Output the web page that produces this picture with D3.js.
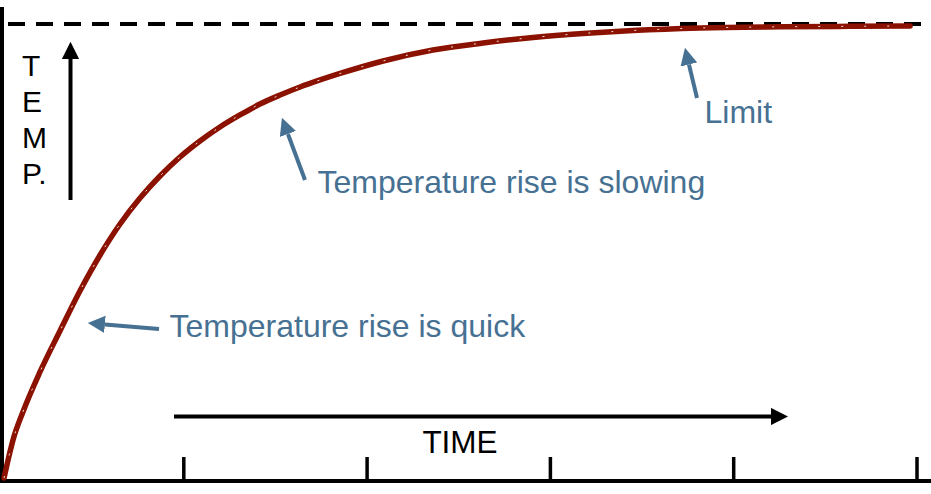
<!DOCTYPE html>
<html>
<head>
<meta charset="utf-8">
<script src="https://cdn.jsdelivr.net/npm/d3@7"></script>
<style>
  html, body { margin: 0; padding: 0; background: #fff; }
  svg { display: block; font-family: "Liberation Sans", Arial, sans-serif; }
</style>
</head>
<body>
<svg id="chart" width="931" height="494"></svg>
<script>
// ---- data ----
const times = [0.022, 0.044, 0.071, 0.125, 0.218, 0.327, 0.436, 0.546, 0.655, 0.764, 0.873, 0.982, 1.091, 1.2, 1.309, 1.418, 1.528, 1.637, 1.746, 1.855, 2.09, 2.362, 2.635, 2.908, 3.18, 3.453, 3.819, 4.255, 4.637, 4.965];
const temps = [0, 3.96, 8.37, 14.54, 23.35, 32.38, 41.19, 49.12, 55.95, 61.67, 66.52, 70.70, 74.23, 77.31, 79.96, 82.38, 84.36, 86.12, 87.67, 89.10, 91.85, 94.27, 95.81, 97.03, 97.91, 98.57, 99.12, 99.38, 99.49, 99.56];
const limitValue = 100;
const tickValues = [1, 2, 3, 4, 5];
const yLabelLetters = ["T", "E", "M", "P."];
const xLabel = "TIME";
const annotationTexts = ["Temperature rise is quick", "Temperature rise is slowing", "Limit"];

// ---- layout ----
const W = 931, H = 494;
const svg = d3.select("#chart");
const x = d3.scaleLinear().domain([0, 5]).range([0, 916.5]);
const y = d3.scaleLinear().domain([0, 100]).range([478, 24]);
const baseY = 481;
const blue = "#477193";
const red = "#8b1100";

// arrowhead markers
const defs = svg.append("defs");
function marker(id, color) {
  defs.append("marker")
    .attr("id", id).attr("viewBox", "0 0 10 10")
    .attr("refX", 0).attr("refY", 5)
    .attr("markerWidth", 4.3).attr("markerHeight", 4.3)
    .attr("markerUnits", "strokeWidth")
    .attr("orient", "auto")
    .append("path").attr("d", "M0,0 L10,5 L0,10 Z").attr("fill", color);
}
marker("headBlack", "#000");
marker("headBlue", blue);

// limit dashed line
svg.append("line")
  .attr("x1", 8).attr("x2", W)
  .attr("y1", y(limitValue)).attr("y2", y(limitValue))
  .attr("stroke", "#000").attr("stroke-width", 4)
  .attr("stroke-dasharray", "17 11");

// left axis line
svg.append("line")
  .attr("x1", 2).attr("x2", 2).attr("y1", 7).attr("y2", baseY + 2)
  .attr("stroke", "#000").attr("stroke-width", 4);

// bottom axis (ticks pointing up)
const axis = d3.axisBottom(x).tickValues(tickValues).tickSize(-24).tickFormat("");
const gAxis = svg.append("g").attr("transform", `translate(0,${baseY})`).call(axis);
gAxis.select(".domain").remove();
gAxis.selectAll(".tick line").attr("stroke", "#000").attr("stroke-width", 3.5);
svg.append("line")
  .attr("x1", 0).attr("x2", W).attr("y1", baseY).attr("y2", baseY)
  .attr("stroke", "#000").attr("stroke-width", 4);

// curve
const pts = times.map((t, i) => [t, temps[i]]);
const line = d3.line().x(d => x(d[0])).y(d => y(d[1])).curve(d3.curveMonotoneX);
svg.append("path").datum(pts)
  .attr("d", line).attr("fill", "none")
  .attr("stroke", red).attr("stroke-width", 5.5)
  .attr("stroke-linecap", "round").attr("stroke-linejoin", "round");
svg.append("path").datum(pts)
  .attr("d", line).attr("fill", "none")
  .attr("stroke", "#fff").attr("stroke-width", 1)
  .attr("stroke-dasharray", "2 21").attr("opacity", 0.85);

// TEMP label + up arrow
svg.append("g").selectAll("text").data(yLabelLetters).join("text")
  .attr("x", 22).attr("y", (d, i) => 75.5 + i * 36)
  .attr("font-size", 30).attr("fill", "#000").text(d => d);
svg.append("line")
  .attr("x1", 70.5).attr("x2", 70.5).attr("y1", 200).attr("y2", 59)
  .attr("stroke", "#000").attr("stroke-width", 4)
  .attr("marker-end", "url(#headBlack)");

// TIME arrow + label
svg.append("line")
  .attr("x1", 174).attr("x2", 771).attr("y1", 416.5).attr("y2", 416.5)
  .attr("stroke", "#000").attr("stroke-width", 4)
  .attr("marker-end", "url(#headBlack)");
svg.append("text")
  .attr("x", 460).attr("y", 453).attr("text-anchor", "middle")
  .attr("font-size", 31.5).attr("fill", "#000").text(xLabel);

// annotations (arrow tail, arrow tip, text anchor in pixels)
const annots = [
  { text: annotationTexts[0], tail: [159, 329], tip: [88, 323], tx: 169.5, ty: 336.5 },
  { text: annotationTexts[1], tail: [305, 180], tip: [282, 118], tx: 317.5, ty: 193 },
  { text: annotationTexts[2], tail: [697, 98], tip: [685, 48], tx: 704.5, ty: 122.5 }
];
annots.forEach(a => {
  const dx = a.tip[0] - a.tail[0], dy = a.tip[1] - a.tail[1];
  const len = Math.hypot(dx, dy);
  const headLen = 17;
  const ex = a.tip[0] - dx / len * headLen, ey = a.tip[1] - dy / len * headLen;
  svg.append("line")
    .attr("x1", a.tail[0]).attr("y1", a.tail[1]).attr("x2", ex).attr("y2", ey)
    .attr("stroke", blue).attr("stroke-width", 4)
    .attr("marker-end", "url(#headBlue)");
  svg.append("text")
    .attr("x", a.tx).attr("y", a.ty)
    .attr("font-size", 32).attr("fill", blue).text(a.text);
});
</script>
</body>
</html>
